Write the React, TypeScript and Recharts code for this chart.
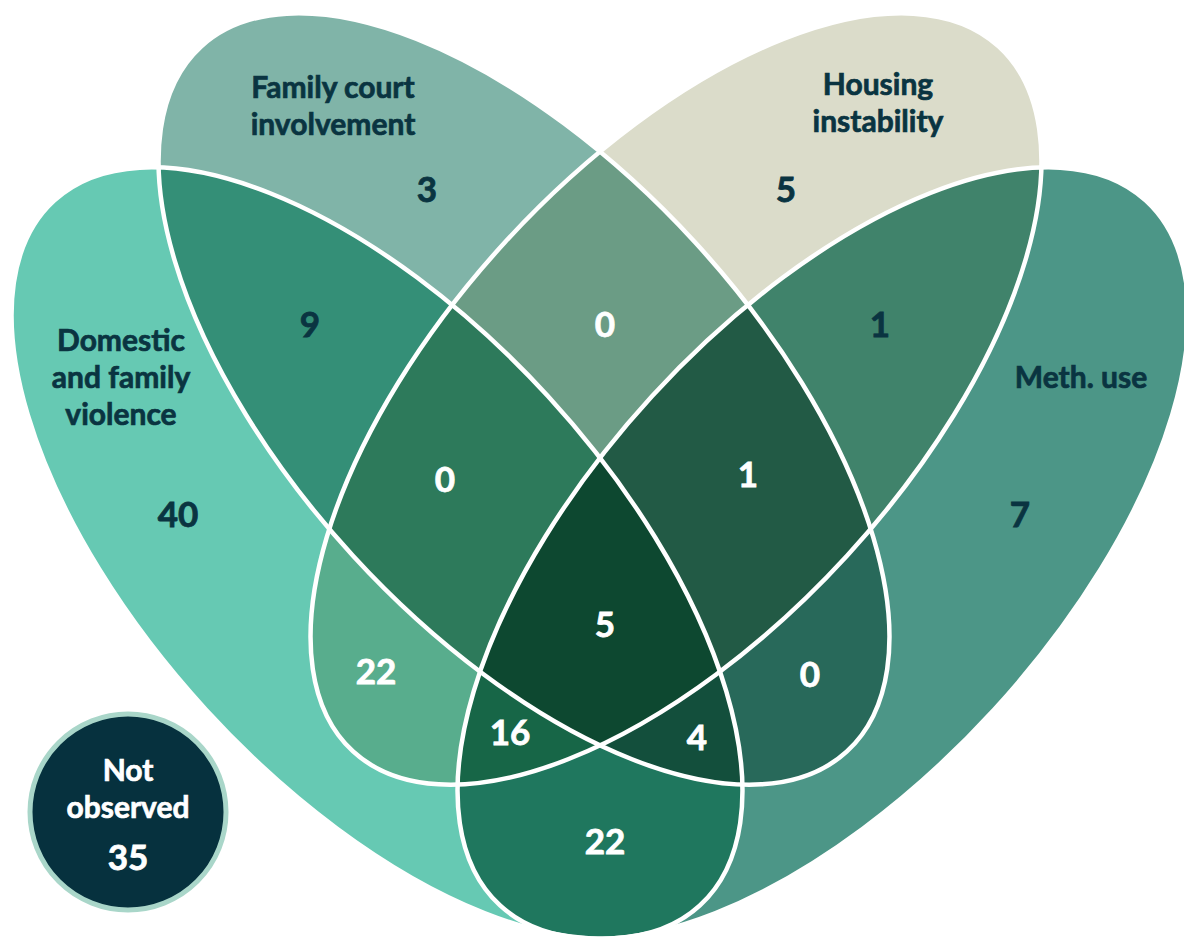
import React from "react";
import { ScatterChart, Scatter, XAxis, YAxis } from "recharts";

// Venn data: four risk factors, counts for each exclusive region
const setKeys = ["D", "F", "H", "M"];
const setLabelLines = [
  ["Domestic", "and family", "violence"],
  ["Family court", "involvement"],
  ["Housing", "instability"],
  ["Meth. use"],
];
const regionKeys = ["D", "F", "H", "M", "DF", "FH", "HM", "DH", "FM", "DM", "DFH", "FHM", "DHM", "DFM", "DFHM"];
const regionCounts = [40, 3, 5, 7, 9, 0, 1, 22, 0, 22, 0, 1, 16, 4, 5];
const notObservedLines = ["Not", "observed"];
const notObservedCount = 35;

// layout (pixel space = data space, 1:1)
const W = 1184;
const H = 939;
const ELLIPSE_RX = 478;
const ELLIPSE_RY = 232;
const ellipseLayout = [
  { x: 377, y: 553, angle: 47.5 },
  { x: 524, y: 399, angle: 47.5 },
  { x: 676, y: 399, angle: -47.5 },
  { x: 823, y: 553, angle: -47.5 },
];
const regionLabelPos: Record<string, [number, number]> = {
  D: [178, 515],
  F: [427, 190],
  H: [786, 190],
  M: [1020, 515],
  DF: [310, 325],
  FH: [605, 325],
  HM: [880, 325],
  DH: [376, 672],
  FM: [810, 675],
  DM: [605, 842],
  DFH: [445, 480],
  FHM: [748, 475],
  DHM: [510, 733],
  DFM: [697, 738],
  DFHM: [605, 625],
};
const setLabelPos: [number, number][] = [
  [121, 341],
  [333, 88],
  [878, 85],
  [1081, 378],
];
const notObservedPos = { x: 128, y: 812 };

const regionColors: Record<string, string> = {
  D: "#66c9b3",
  F: "#80b4a8",
  H: "#dbdcca",
  M: "#4c9687",
  DF: "#348f77",
  FH: "#6b9c85",
  HM: "#40836b",
  DH: "#58ad8d",
  FM: "#28695a",
  DM: "#1f775e",
  DFH: "#2d7a5b",
  FHM: "#225a45",
  DHM: "#176647",
  DFM: "#134f3c",
  DFHM: "#0d4830",
};
const darkText = "#0a3441";
const darkLabelRegions = ["D", "F", "H", "M", "DF", "HM"];
const FONT = "Lato, 'Open Sans', sans-serif";

const ellipseData = ellipseLayout.map((e, idx) => ({ ...e, idx }));

const regionData = regionKeys.map((key, i) => ({
  key,
  count: regionCounts[i],
  x: regionLabelPos[key][0],
  y: regionLabelPos[key][1],
  members: key.split("").map((k) => setKeys.indexOf(k)),
  color: regionColors[key],
  textColor: darkLabelRegions.includes(key) ? darkText : "#ffffff",
}));
// painter order: single sets first, then pairs, triples, all four
const fillData = [...regionData].sort((a, b) => a.members.length - b.members.length);

const setLabelData = setLabelLines.map((lines, i) => ({
  lines,
  x: setLabelPos[i][0],
  y: setLabelPos[i][1],
}));

const EllipseDefs = (props: any) => {
  const { cx, cy, payload } = props;
  const t = `rotate(${payload.angle} ${cx} ${cy})`;
  return (
    <defs>
      <ellipse id={`venn-shape-${payload.idx}`} cx={cx} cy={cy} rx={ELLIPSE_RX} ry={ELLIPSE_RY} transform={t} />
      <clipPath id={`venn-clip-${payload.idx}`}>
        <ellipse cx={cx} cy={cy} rx={ELLIPSE_RX} ry={ELLIPSE_RY} transform={t} />
      </clipPath>
    </defs>
  );
};

const RegionFill = (props: any) => {
  const { members, color } = props.payload;
  let node = <use href={`#venn-shape-${members[members.length - 1]}`} fill={color} />;
  for (let k = members.length - 2; k >= 0; k--) {
    node = <g clipPath={`url(#venn-clip-${members[k]})`}>{node}</g>;
  }
  return <g>{node}</g>;
};

const EllipseOutline = (props: any) => (
  <use href={`#venn-shape-${props.payload.idx}`} fill="none" stroke="#ffffff" strokeWidth={4.5} />
);

const RegionLabel = (props: any) => {
  const { cx, cy, payload } = props;
  return (
    <text
      x={cx}
      y={cy + 12}
      textAnchor="middle"
      fontSize={35}
      fontWeight={700}
      fontFamily={FONT}
      fill={payload.textColor}
      stroke={payload.textColor}
      strokeWidth={0.8}
    >
      {payload.count}
    </text>
  );
};

const SetLabel = (props: any) => {
  const { cx, cy, payload } = props;
  return (
    <text
      textAnchor="middle"
      fontSize={30}
      fontWeight={700}
      fontFamily={FONT}
      fill={darkText}
      stroke={darkText}
      strokeWidth={0.7}
    >
      {payload.lines.map((line: string, i: number) => (
        <tspan key={i} x={cx} y={cy + 10 + i * 37}>
          {line}
        </tspan>
      ))}
    </text>
  );
};

const NotObserved = (props: any) => {
  const { cx, cy } = props;
  return (
    <g fontFamily={FONT} fontWeight={700} textAnchor="middle">
      <circle cx={cx} cy={cy} r={98} fill="#06313e" stroke="#a9d6c9" strokeWidth={5} />
      {notObservedLines.map((line, i) => (
        <text key={i} x={cx} y={cy - 31 + i * 37} fontSize={30} fill="#ffffff" stroke="#ffffff" strokeWidth={0.7}>
          {line}
        </text>
      ))}
      <text x={cx} y={cy + 58} fontSize={35} fill="#ffffff" stroke="#ffffff" strokeWidth={0.8}>
        {notObservedCount}
      </text>
    </g>
  );
};

export default function App() {
  return (
    <div style={{ position: "absolute", left: 0, top: 0, background: "#ffffff" }}>
      <ScatterChart width={W} height={H} margin={{ top: 0, right: 0, bottom: 0, left: 0 }}>
        <XAxis type="number" dataKey="x" domain={[0, W]} hide allowDataOverflow />
        <YAxis type="number" dataKey="y" domain={[0, H]} reversed hide allowDataOverflow />
        <Scatter data={ellipseData} shape={EllipseDefs} isAnimationActive={false} />
        <Scatter data={fillData} shape={RegionFill} isAnimationActive={false} />
        <Scatter data={ellipseData} shape={EllipseOutline} isAnimationActive={false} />
        <Scatter data={regionData} shape={RegionLabel} isAnimationActive={false} />
        <Scatter data={setLabelData} shape={SetLabel} isAnimationActive={false} />
        <Scatter data={[notObservedPos]} shape={NotObserved} isAnimationActive={false} />
      </ScatterChart>
    </div>
  );
}
